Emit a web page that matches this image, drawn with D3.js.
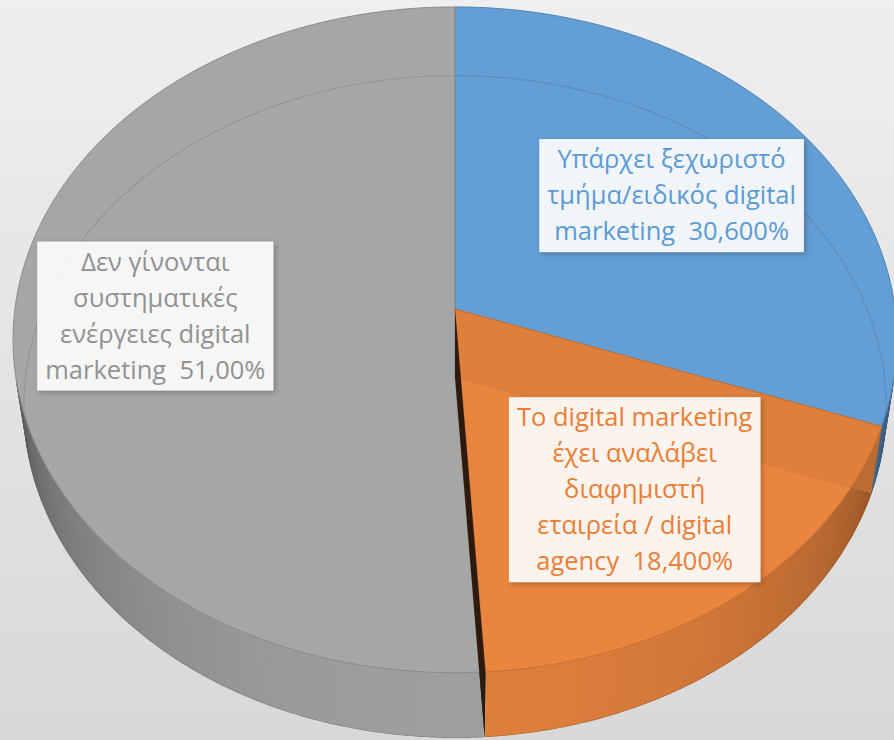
<!DOCTYPE html>
<html>
<head>
<meta charset="utf-8">
<script src="https://cdn.jsdelivr.net/npm/d3@7"></script>
<style>
  html, body { margin: 0; padding: 0; background: #e6e6e6; }
  svg { display: block; }
</style>
</head>
<body>
<svg width="894" height="740"></svg>
<script>
// data
const values = [30.6, 18.4, 51.0];
const labelLines = [
  ['Υπάρχει ξεχωριστό', 'τμήμα/ειδικός digital', 'marketing  30,600%'],
  ['Το digital marketing', 'έχει αναλάβει', 'διαφημιστή', 'εταιρεία / digital', 'agency  18,400%'],
  ['Δεν γίνονται', 'συστηματικές', 'ενέργειες digital', 'marketing  51,00%']
];
const colors = ['#639ed4', '#e9853f', '#a6a6a6'];
const textColors = ['#5b9bd5', '#ea7e35', '#929292'];
const labelR = [0.62, 0.65, 0.68];

const svg = d3.select('svg');
const width = +svg.attr('width');
const height = +svg.attr('height');

// perspective camera for the tilted disc
const cx = 455, cy = 309, f = 3142, D = 7.14, sinP = 0.661, cosP = 0.75, h = 0.238;
function proj(r, a, z) {
  const u = r * Math.sin(a), v = r * Math.cos(a);
  const d = D + v * sinP - z * cosP;
  return [cx + f * u / d, cy - f * (v * cosP + z * sinP) / d];
}
const aVis = Math.acos(-1 / (D * sinP)); // outer wall faces camera between aVis and 2pi - aVis
const step = Math.PI / 360;
const line = d3.line();

function arcPts(a0, a1, z) {
  const pts = [];
  const n = Math.max(2, Math.ceil((a1 - a0) / step));
  for (let i = 0; i <= n; i++) pts.push(proj(1, a0 + (a1 - a0) * i / n, z));
  return pts;
}
function shade(c, b) {
  const col = d3.rgb(c);
  return d3.rgb(col.r * b, col.g * b, col.b * b).toString();
}

const defs = svg.append('defs');
const bg = defs.append('linearGradient').attr('id', 'bg')
  .attr('x1', 0).attr('y1', 0).attr('x2', 0).attr('y2', 1);
bg.append('stop').attr('offset', '0%').attr('stop-color', '#efefef');
bg.append('stop').attr('offset', '100%').attr('stop-color', '#d8d8d8');
defs.append('filter').attr('id', 'shadow')
  .attr('x', '-10%').attr('y', '-10%').attr('width', '130%').attr('height', '130%')
  .append('feDropShadow')
  .attr('dx', 2).attr('dy', 2).attr('stdDeviation', 2.5)
  .attr('flood-color', '#000').attr('flood-opacity', 0.28);

svg.append('rect').attr('width', width).attr('height', height).attr('fill', 'url(#bg)');

const pie = d3.pie().sort(null).value(d => d);
const arcs = pie(values).map((d, i) => ({ ...d, i, mid: (d.startAngle + d.endAngle) / 2 }));

const g = svg.append('g');

// back outer walls (seen through the translucent top)
arcs.forEach(d => {
  const ranges = [[d.startAngle, Math.min(d.endAngle, aVis)], [Math.max(d.startAngle, 2 * Math.PI - aVis), d.endAngle]];
  ranges.forEach(([a0, a1]) => {
    if (a1 <= a0) return;
    const pts = arcPts(a0, a1, 0).concat(arcPts(a0, a1, -h).reverse());
    g.append('path').attr('d', line(pts) + 'Z').attr('fill', colors[d.i]);
  });
});

// bottom faces
arcs.forEach(d => {
  const pts = [proj(0, 0, -h)].concat(arcPts(d.startAngle, d.endAngle, -h));
  g.append('path').attr('d', line(pts) + 'Z')
    .attr('fill', colors[d.i])
    .attr('stroke', shade(colors[d.i], 0.6)).attr('stroke-width', 1.2);
});

// front outer walls, shaded by the angle of the surface
arcs.forEach(d => {
  const a0 = Math.max(d.startAngle, aVis), a1 = Math.min(d.endAngle, 2 * Math.PI - aVis);
  if (a1 <= a0) return;
  const n = Math.ceil((a1 - a0) / step);
  for (let k = 0; k < n; k++) {
    const s = a0 + (a1 - a0) * k / n, e = a0 + (a1 - a0) * (k + 1) / n;
    const m = (s + e) / 2;
    const b = 0.3 + 0.65 * Math.pow(Math.max(0, -Math.cos(m)), 0.6);
    const c = shade(colors[d.i], b);
    g.append('path')
      .attr('d', line([proj(1, s, 0), proj(1, e, 0), proj(1, e, -h), proj(1, s, -h)]) + 'Z')
      .attr('fill', c).attr('stroke', c).attr('stroke-width', 0.6);
  }
});

function radialWall(a, color) {
  const b = 0.15 + 0.7 * Math.abs(Math.sin(a));
  g.append('path')
    .attr('d', line([proj(0, a, 0), proj(1, a, 0), proj(1, a, -h), proj(0, a, -h)]) + 'Z')
    .attr('fill', shade(color, b));
}

// slices back to front: hidden walls, translucent top, facing walls
arcs.slice().sort((p, q) => Math.cos(q.mid) - Math.cos(p.mid)).forEach(d => {
  const col = colors[d.i];
  const walls = [
    { a: d.startAngle, facing: Math.sin(d.startAngle) < -1e-6 },
    { a: d.endAngle, facing: Math.sin(d.endAngle) > 1e-6 }
  ];
  walls.filter(w => !w.facing && Math.abs(Math.sin(w.a)) > 1e-6).forEach(w => radialWall(w.a, col));
  const pts = [proj(0, 0, 0)].concat(arcPts(d.startAngle, d.endAngle, 0));
  g.append('path').attr('d', line(pts) + 'Z')
    .attr('fill', col).attr('fill-opacity', 0.75)
    .attr('stroke', shade(col, 0.85)).attr('stroke-width', 1);
  walls.filter(w => w.facing).forEach(w => radialWall(w.a, col));
});

// data labels
const lh = 36, padX = 8, padY = 2.5;
arcs.forEach(d => {
  const [ax, ay] = proj(labelR[d.i], d.mid, 0);
  const lab = svg.append('g');
  const box = lab.append('rect').attr('fill', '#fff').attr('fill-opacity', 0.9)
    .attr('filter', 'url(#shadow)');
  const lines = labelLines[d.i];
  const bh = lines.length * lh + 2 * padY;
  const texts = lab.selectAll('text').data(lines).enter().append('text')
    .attr('x', ax)
    .attr('y', (t, k) => ay - bh / 2 + padY + k * lh + 0.74 * lh)
    .attr('text-anchor', 'middle')
    .style('white-space', 'pre')
    .attr('font-family', '"Open Sans", "Noto Sans", sans-serif')
    .attr('font-size', 25.5)
    .attr('fill', textColors[d.i])
    .text(t => t);
  const bw = d3.max(texts.nodes(), n => n.getComputedTextLength()) + 2 * padX;
  box.attr('x', ax - bw / 2).attr('y', ay - bh / 2).attr('width', bw).attr('height', bh);
});
</script>
</body>
</html>
